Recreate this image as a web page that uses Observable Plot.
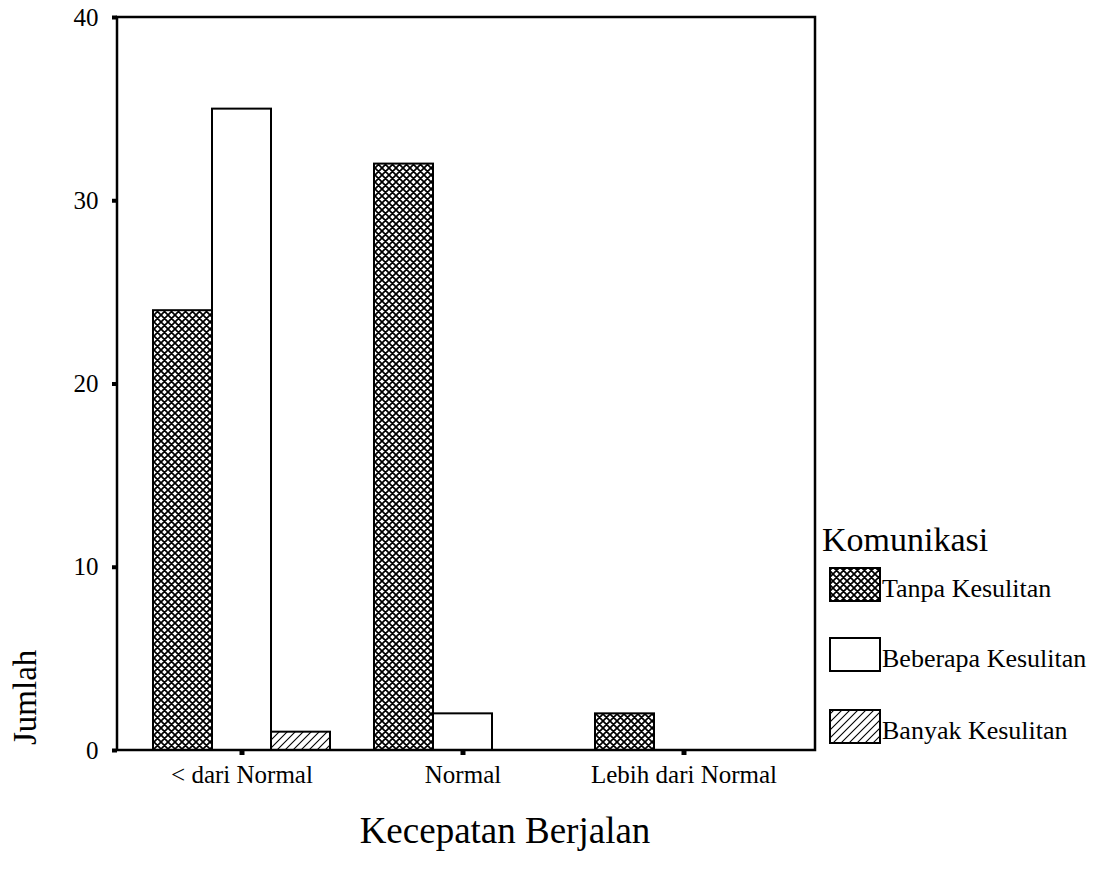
<!DOCTYPE html>
<html>
<head>
<meta charset="utf-8">
<script src="https://cdn.jsdelivr.net/npm/d3@7"></script>
<script src="https://cdn.jsdelivr.net/npm/@observablehq/plot@0.6"></script>
<style>
  body { margin: 0; background: #fff; }
  #chart svg { font-family: "Liberation Serif", "DejaVu Serif", serif; }
</style>
</head>
<body>
<div id="chart"></div>
<script>
const categories = ["< dari Normal", "Normal", "Lebih dari Normal"];
const series = ["Tanpa Kesulitan", "Beberapa Kesulitan", "Banyak Kesulitan"];
const tanpa = [24, 32, 2];
const beberapa = [35, 2, 0];
const banyak = [1, 0, 0];
const yTicks = [0, 10, 20, 30, 40];
const legendTitle = "Komunikasi";
const xLabel = "Kecepatan Berjalan";
const yLabel = "Jumlah";

const values = [tanpa, beberapa, banyak];
const data = [];
categories.forEach((c, i) => series.forEach((s, j) => data.push({category: c, series: s, value: values[j][i]})));

const W = 1105, H = 877;
const mL = 117, mR = 290, mT = 17, mB = 127;
const fills = ["url(#pat-cross)", "#fff", "url(#pat-hatch)"];

function build(yDx) {
  return Plot.plot({
    width: W, height: H,
    marginLeft: mL, marginRight: mR, marginTop: mT, marginBottom: mB,
    style: {fontFamily: "Liberation Serif", background: "#fff", overflow: "visible"},
    fx: {domain: categories, paddingInner: 0.19, paddingOuter: 0.17, align: 0.45},
    x: {domain: series, padding: 0, axis: null},
    y: {domain: [0, 40], axis: null},
    color: {domain: series, range: fills},
    marks: [
      Plot.barY(data.filter(d => d.value > 0), {fx: "category", x: "series", y: "value", fill: "series", stroke: "#000", strokeWidth: 2}),
      Plot.axisY({ticks: yTicks, tickSize: 5, strokeWidth: 4, fontSize: 25, tickPadding: 14, label: null, color: "#000", dx: yDx}),
      Plot.axisFx({anchor: "bottom", tickSize: 5, strokeWidth: 5, fontSize: 25, tickPadding: 10, label: null, color: "#000"})
    ]
  });
}

const probe = build(0);
const fxScale = probe.scale("fx");
const offset = fxScale.apply(categories[0]) - mL;
const chart = build(-offset);

const svg = d3.select(chart);
const defs = svg.insert("defs", ":first-child");
const pc = defs.append("pattern").attr("id", "pat-cross").attr("patternUnits", "userSpaceOnUse").attr("width", 7).attr("height", 7);
pc.append("rect").attr("width", 7).attr("height", 7).attr("fill", "#fff");
pc.append("path").attr("d", "M-1,-1L8,8M-1,8L8,-1M6,-1L8,1M-1,6L1,8").attr("stroke", "#000").attr("stroke-width", 1.7);
const ph = defs.append("pattern").attr("id", "pat-hatch").attr("patternUnits", "userSpaceOnUse").attr("width", 8).attr("height", 8);
ph.append("rect").attr("width", 8).attr("height", 8).attr("fill", "#fff");
ph.append("path").attr("d", "M-2,10L10,-2M-2,2L2,-2M6,10L10,6").attr("stroke", "#000").attr("stroke-width", 1.1);

// frame
svg.append("rect").attr("x", mL).attr("y", mT).attr("width", W - mL - mR).attr("height", H - mT - mB)
  .attr("fill", "none").attr("stroke", "#000").attr("stroke-width", 2.5);

// axis titles
svg.append("text").attr("x", 505).attr("y", 843).attr("text-anchor", "middle")
  .attr("font-size", 37).attr("fill", "#000").text(xLabel);
svg.append("text").attr("transform", "translate(36,745) rotate(-90)").attr("text-anchor", "start")
  .attr("font-size", 33).attr("fill", "#000").text(yLabel);

// legend
const lg = svg.append("g").attr("text-anchor", "start");
lg.append("text").attr("x", 822).attr("y", 551).attr("font-size", 34).attr("fill", "#000").text(legendTitle);
const rows = [568, 638, 710];
series.forEach((s, j) => {
  lg.append("rect").attr("x", 830).attr("y", rows[j]).attr("width", 50).attr("height", 33)
    .attr("fill", fills[j]).attr("stroke", "#000").attr("stroke-width", 2);
  lg.append("text").attr("x", 882).attr("y", rows[j] + 29).attr("font-size", 26).attr("fill", "#000").text(s);
});

document.getElementById("chart").appendChild(chart);
</script>
</body>
</html>
